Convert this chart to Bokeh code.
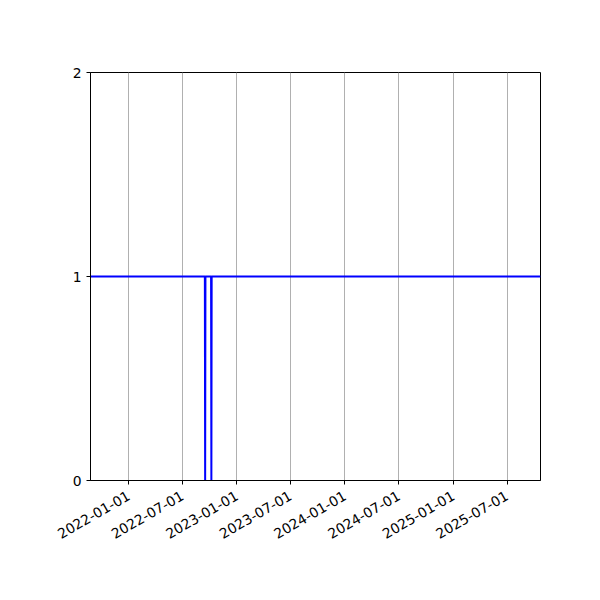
import math
from datetime import datetime
from bokeh.plotting import figure
from bokeh.models import FixedTicker, DatetimeTickFormatter, Range1d
from bokeh.embed import file_html
from bokeh.resources import INLINE

# data
dates = ["2021-08-25", "2022-09-15", "2022-09-16", "2022-09-17",
         "2022-10-06", "2022-10-07", "2022-10-08", "2025-10-22"]
values = [1, 1, 0, 1, 1, 0, 1, 1]
x_tick_labels = ["2022-01-01", "2022-07-01", "2023-01-01", "2023-07-01",
                 "2024-01-01", "2024-07-01", "2025-01-01", "2025-07-01"]
y_ticks = [0, 1, 2]

xs = [datetime.strptime(d, "%Y-%m-%d") for d in dates]

def ms(d):
    return (datetime.strptime(d, "%Y-%m-%d") - datetime(1970, 1, 1)).total_seconds() * 1000

p = figure(output_backend="svg", toolbar_location=None, x_axis_type="datetime",
           frame_width=450, frame_height=408,
           min_border_left=90, min_border_right=52, min_border_top=72, min_border_bottom=112,
           x_range=Range1d(xs[0], xs[-1]), y_range=Range1d(0, 2))
p.background_fill_color = "white"
p.border_fill_color = "white"
p.outline_line_color = "black"
p.outline_line_width = 1

p.line(xs, values, line_color="blue", line_width=2)

p.xaxis.ticker = FixedTicker(ticks=[ms(t) for t in x_tick_labels])
p.xaxis.formatter = DatetimeTickFormatter(days="%Y-%m-%d", months="%Y-%m-%d", years="%Y-%m-%d")
p.xaxis.major_label_orientation = math.pi / 6
p.yaxis.ticker = FixedTicker(ticks=y_ticks)

for ax in [p.xaxis[0], p.yaxis[0]]:
    ax.axis_line_color = "black"
    ax.major_tick_line_color = "black"
    ax.major_tick_out = 4
    ax.major_tick_in = 0
    ax.minor_tick_line_color = None
    ax.major_label_text_font = "DejaVu Sans"
    ax.major_label_text_font_size = "13.9px"
    ax.major_label_text_color = "black"

p.xaxis.major_label_standoff = 10

p.xgrid.grid_line_color = "#b0b0b0"
p.xgrid.grid_line_width = 1
p.ygrid.grid_line_color = None

open("out.html", "w").write(file_html(p, INLINE))
